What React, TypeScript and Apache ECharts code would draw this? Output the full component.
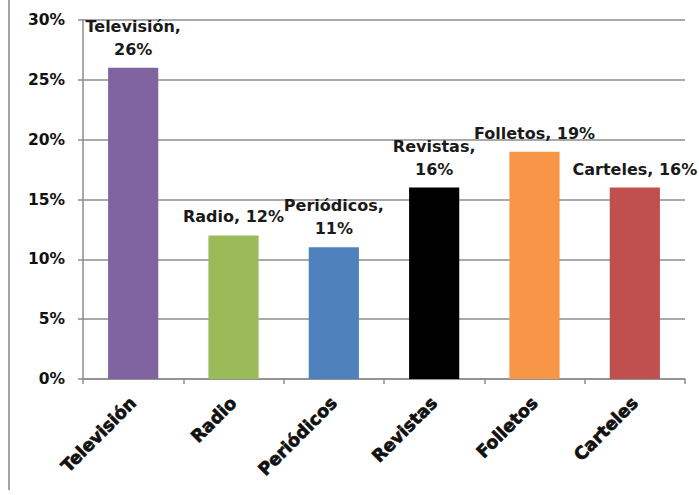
import React, { useEffect, useRef } from "react";
import * as echarts from "echarts";

// Media shares (percent)
const categories = ["Televisión", "Radio", "Periódicos", "Revistas", "Folletos", "Carteles"];
const shares = [26, 12, 11, 16, 19, 16];
const barColors = ["#8064A2", "#9BBB59", "#4F81BD", "#000000", "#F79646", "#C0504D"];
const yTicks = [0, 5, 10, 15, 20, 25, 30];

// Labels that wrap the value onto a second line
const wrappedLabels = new Set(["Televisión", "Periódicos", "Revistas"]);

const FONT = "DejaVu Sans";

export default function App() {
  const ref = useRef<HTMLDivElement>(null);

  useEffect(() => {
    if (!ref.current) return;
    const chart = echarts.init(ref.current, null, { renderer: "svg" });
    chart.setOption({
      animation: false,
      backgroundColor: "#ffffff",
      grid: { left: 83, right: 14, top: 20, bottom: 116, containLabel: false },
      graphic: [
        {
          type: "line",
          shape: { x1: 9, y1: 0, x2: 9, y2: 490 },
          style: { stroke: "#a3a3a3", lineWidth: 2 },
        },
      ],
      xAxis: {
        type: "category",
        data: categories,
        boundaryGap: true,
        axisLine: { show: true, lineStyle: { color: "#8c8c8c", width: 1.5 } },
        axisTick: { show: true, length: 5, alignWithLabel: false, lineStyle: { color: "#8c8c8c", width: 1.5 } },
        axisLabel: {
          rotate: 45,
          margin: 21,
          interval: 0,
          fontFamily: FONT,
          fontWeight: "bold",
          fontSize: 17.5,
          color: "#111111",
          textBorderColor: "#111111",
          textBorderWidth: 0.7,
        },
      },
      yAxis: {
        type: "value",
        min: yTicks[0],
        max: yTicks[yTicks.length - 1],
        interval: yTicks[1] - yTicks[0],
        axisLine: { show: true, lineStyle: { color: "#8c8c8c", width: 1.5 } },
        axisTick: { show: true, length: 5, lineStyle: { color: "#8c8c8c", width: 1.5 } },
        splitLine: { show: true, lineStyle: { color: "#8c8c8c", width: 1.5 } },
        axisLabel: {
          margin: 18,
          formatter: (v: number) => `${v}%`,
          fontFamily: FONT,
          fontWeight: "bold",
          fontSize: 15.5,
          color: "#111111",
        },
      },
      series: [
        {
          type: "bar",
          barWidth: "50%",
          data: shares.map((v, i) => ({ value: v, itemStyle: { color: barColors[i] } })),
          label: {
            show: true,
            position: "top",
            distance: 7,
            fontFamily: FONT,
            fontWeight: "bold",
            fontSize: 16,
            lineHeight: 23,
            color: "#1a1a1a",
            align: "center",
            formatter: (p: any) =>
              `${p.name},${wrappedLabels.has(p.name) ? "\n" : " "}${p.value}%`,
          },
        },
      ],
    });
    return () => chart.dispose();
  }, []);

  return (
    <div
      ref={ref}
      style={{ position: "absolute", left: 0, top: 0, width: 699, height: 495 }}
    />
  );
}
